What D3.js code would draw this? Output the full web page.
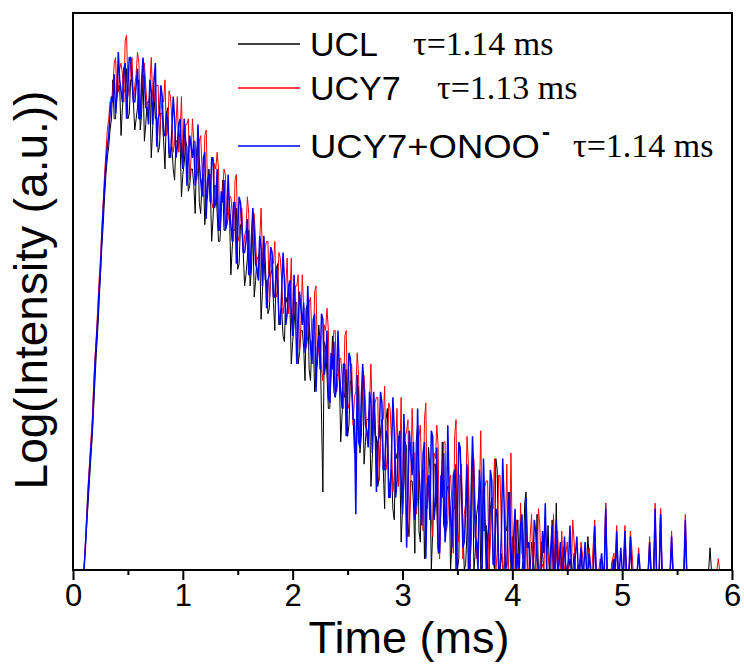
<!DOCTYPE html>
<html><head><meta charset="utf-8">
<script src="https://cdn.jsdelivr.net/npm/d3@7"></script>
<style>html,body{margin:0;padding:0;background:#fff;}</style>
</head><body>
<svg id="chart" width="744" height="666"></svg>
<script>
// Time (ms)
const times = [
0.1,0.1125,0.125,0.1375,0.15,0.1625,0.175,0.1875,0.2,0.2125,0.225,0.2375,0.25,0.2625,0.275,0.2875,0.3,0.3125,0.325,0.3375,
0.35,0.3625,0.375,0.3875,0.4,0.4125,0.425,0.4375,0.45,0.4625,0.475,0.4875,0.5,0.5125,0.525,0.5375,0.55,0.5625,0.575,0.5875,
0.6,0.6125,0.625,0.6375,0.65,0.6625,0.675,0.6875,0.7,0.7125,0.725,0.7375,0.75,0.7625,0.775,0.7875,0.8,0.8125,0.825,0.8375,
0.85,0.8625,0.875,0.8875,0.9,0.9125,0.925,0.9375,0.95,0.9625,0.975,0.9875,1,1.0125,1.025,1.0375,1.05,1.0625,1.075,1.0875,
1.1,1.1125,1.125,1.1375,1.15,1.1625,1.175,1.1875,1.2,1.2125,1.225,1.2375,1.25,1.2625,1.275,1.2875,1.3,1.3125,1.325,1.3375,
1.35,1.3625,1.375,1.3875,1.4,1.4125,1.425,1.4375,1.45,1.4625,1.475,1.4875,1.5,1.5125,1.525,1.5375,1.55,1.5625,1.575,1.5875,
1.6,1.6125,1.625,1.6375,1.65,1.6625,1.675,1.6875,1.7,1.7125,1.725,1.7375,1.75,1.7625,1.775,1.7875,1.8,1.8125,1.825,1.8375,
1.85,1.8625,1.875,1.8875,1.9,1.9125,1.925,1.9375,1.95,1.9625,1.975,1.9875,2,2.0125,2.025,2.0375,2.05,2.0625,2.075,2.0875,
2.1,2.1125,2.125,2.1375,2.15,2.1625,2.175,2.1875,2.2,2.2125,2.225,2.2375,2.25,2.2625,2.275,2.2875,2.3,2.3125,2.325,2.3375,
2.35,2.3625,2.375,2.3875,2.4,2.4125,2.425,2.4375,2.45,2.4625,2.475,2.4875,2.5,2.5125,2.525,2.5375,2.55,2.5625,2.575,2.5875,
2.6,2.6125,2.625,2.6375,2.65,2.6625,2.675,2.6875,2.7,2.7125,2.725,2.7375,2.75,2.7625,2.775,2.7875,2.8,2.8125,2.825,2.8375,
2.85,2.8625,2.875,2.8875,2.9,2.9125,2.925,2.9375,2.95,2.9625,2.975,2.9875,3,3.0125,3.025,3.0375,3.05,3.0625,3.075,3.0875,
3.1,3.1125,3.125,3.1375,3.15,3.1625,3.175,3.1875,3.2,3.2125,3.225,3.2375,3.25,3.2625,3.275,3.2875,3.3,3.3125,3.325,3.3375,
3.35,3.3625,3.375,3.3875,3.4,3.4125,3.425,3.4375,3.45,3.4625,3.475,3.4875,3.5,3.5125,3.525,3.5375,3.55,3.5625,3.575,3.5875,
3.6,3.6125,3.625,3.6375,3.65,3.6625,3.675,3.6875,3.7,3.7125,3.725,3.7375,3.75,3.7625,3.775,3.7875,3.8,3.8125,3.825,3.8375,
3.85,3.8625,3.875,3.8875,3.9,3.9125,3.925,3.9375,3.95,3.9625,3.975,3.9875,4,4.0125,4.025,4.0375,4.05,4.0625,4.075,4.0875,
4.1,4.1125,4.125,4.1375,4.15,4.1625,4.175,4.1875,4.2,4.2125,4.225,4.2375,4.25,4.2625,4.275,4.2875,4.3,4.3125,4.325,4.3375,
4.35,4.3625,4.375,4.3875,4.4,4.4125,4.425,4.4375,4.45,4.4625,4.475,4.4875,4.5,4.5125,4.525,4.5375,4.55,4.5625,4.575,4.5875,
4.6,4.6125,4.625,4.6375,4.65,4.6625,4.675,4.6875,4.7,4.7125,4.725,4.7375,4.75,4.7625,4.775,4.7875,4.8,4.8125,4.825,4.8375,
4.85,4.8625,4.875,4.8875,4.9,4.9125,4.925,4.9375,4.95,4.9625,4.975,4.9875,5,5.0125,5.025,5.0375,5.05,5.0625,5.075,5.0875,
5.1,5.1125,5.125,5.1375,5.15,5.1625,5.175,5.1875,5.2,5.2125,5.225,5.2375,5.25,5.2625,5.275,5.2875,5.3,5.3125,5.325,5.3375,
5.35,5.3625,5.375,5.3875,5.4,5.4125,5.425,5.4375,5.45,5.4625,5.475,5.4875,5.5,5.5125,5.525,5.5375,5.55,5.5625,5.575,5.5875,
5.6,5.6125,5.625,5.6375,5.65,5.6625,5.675,5.6875,5.7,5.7125,5.725,5.7375,5.75,5.7625,5.775,5.7875,5.8,5.8125,5.825,5.8375,
5.85,5.8625,5.875,5.8875,5.9];

// Log intensity (relative units, 0 = bottom of axis)
const UCL = [
0,4,8,12,16,20,24,29,34,39,43,48,53,58,62,67,71,74,76,79,
81,88,81,81,86,86,87,78,83,86,86,90,81,82,88,88,84,79,81,83,
88,79,82,89,77,80,84,84,85,74,79,85,81,81,75,76,82,82,77,72,
82,83,74,75,76,72,70,77,77,79,77,67,71,73,77,76,68,69,72,72,
69,64,75,77,66,64,70,71,62,66,67,72,69,59,63,69,69,64,59,59,
64,70,61,61,64,64,64,53,58,61,61,65,54,55,62,62,57,51,53,56,
61,51,54,62,49,52,56,56,57,45,50,57,52,52,46,47,53,54,48,43,
54,55,44,46,47,42,41,49,48,51,48,37,41,44,48,48,37,39,43,43,
40,34,47,48,36,34,41,42,32,36,37,44,41,28,14,41,40,35,29,29,
35,42,32,31,35,35,35,23,28,32,31,36,24,26,34,33,28,21,23,27,
33,21,24,34,19,23,27,27,29,15,20,29,24,24,15,17,25,27,18,11,
27,29,14,16,18,11,9,21,20,24,20,5,11,15,23,22,6,9,16,16,
12,3,23,26,7,5,17,18,2,10,12,22,18,0,7,19,19,11,3,3,
12,23,8,7,14,15,15,0,5,11,11,19,0,2,17,16,8,0,1,7,
18,0,5,21,0,3,10,12,15,0,1,17,7,8,0,0,11,13,2,0,
20,18,0,0,3,0,0,8,7,14,9,0,6,0,0,5,9,0,0,0,
2,12,14,0,0,0,5,3,0,0,10,0,0,5,3,0,0,0,8,0,
0,9,2,0,12,0,0,0,0,4,4,0,0,0,2,0,0,3,0,0,
0,0,3,0,0,0,0,6,2,0,0,0,6,0,0,0,0,0,0,0,
12,0,0,0,0,2,0,0,5,0,0,0,0,0,6,0,0,0,4,0,
0,0,0,0,0,0,0,0,0,0,0,0,3,0,0,0,9,0,0,0,
11,0,0,0,0,0,0,0,4,0,0,0,0,0,0,0,0,0,6,0,
0,0,0,0,0,0,0,0,0,0,0,0,0,0,0,0,4,0,0,0,
0,0,0,0,0];

const UCY7 = [
0,5,10,15,19,23,27,33,38,42,47,52,56,61,66,71,75,79,81,84,
83,86,91,92,85,86,90,91,89,84,95,96,87,85,91,92,84,87,89,93,
91,81,86,91,91,87,83,82,87,92,85,84,87,87,87,77,82,85,84,88,
78,79,86,85,81,75,77,80,85,75,78,85,73,76,80,80,81,70,74,81,
77,77,70,72,77,78,72,67,78,79,69,70,71,66,65,73,72,75,72,61,
66,68,72,71,62,63,67,67,64,59,70,71,60,59,65,65,57,60,61,67,
64,53,58,64,64,59,54,54,59,65,56,55,58,59,59,48,53,56,55,59,
49,50,57,56,52,46,48,51,56,46,49,56,42,47,51,51,53,39,44,53,
47,47,40,42,48,49,42,37,50,51,38,40,42,36,34,44,43,47,43,31,
36,38,43,43,32,34,38,38,35,29,42,43,30,29,36,37,26,31,32,39,
35,23,28,35,35,30,24,24,30,37,27,26,30,31,31,16,22,27,27,33,
18,20,30,29,23,14,17,22,29,15,19,31,10,17,24,25,27,6,15,29,
21,21,10,13,24,26,16,7,27,30,11,14,17,9,6,21,20,26,22,2,
11,15,23,23,7,9,16,17,12,3,24,27,7,5,17,19,2,10,12,24,
19,0,7,20,20,11,2,2,13,25,8,7,15,16,16,0,5,12,11,20,
0,3,17,17,8,0,1,8,19,0,5,21,4,0,7,9,0,0,12,3,
2,0,9,0,0,6,10,0,5,0,0,11,8,0,1,0,9,4,3,0,
0,0,10,0,2,7,0,0,7,0,0,3,5,0,0,0,9,5,0,0,
1,0,5,3,0,0,0,0,4,0,0,5,9,0,0,0,2,0,0,0,
12,0,0,0,0,2,3,0,8,0,0,0,0,0,8,0,0,0,7,4,
0,0,0,0,4,0,0,0,0,0,0,0,6,0,0,0,12,0,0,0,
11,0,0,0,0,0,0,0,7,0,0,0,0,0,0,0,0,0,10,0,
0,0,0,0,0,0,0,0,0,0,0,0,0,0,0,0,0,0,0,0,
0,0,2,0,0];

const UCY7_ONOO = [
0,4,9,14,18,22,25,31,37,41,45,50,54,60,65,69,73,76,78,82,
85,84,89,82,85,93,88,86,84,90,91,81,87,92,92,88,84,84,87,90,
81,81,88,92,88,83,83,80,88,86,80,88,91,76,81,82,87,85,78,78,
82,81,75,74,79,85,81,74,76,80,81,75,72,81,77,69,74,78,76,74,
77,69,71,80,73,70,67,74,75,63,70,71,66,74,74,65,66,72,61,61,
68,66,70,61,62,71,65,62,59,66,66,55,61,67,66,62,57,57,59,63,
53,53,60,65,61,55,54,52,60,58,51,60,55,47,52,53,58,57,49,49,
54,52,45,44,50,57,52,44,46,51,52,46,42,53,47,37,44,50,47,44,
48,39,41,51,44,40,37,45,46,32,40,42,36,46,45,35,37,43,31,30,
39,36,41,31,33,43,36,32,29,37,37,24,31,39,38,33,27,27,10,35,
23,22,31,37,32,26,25,22,32,30,21,32,27,14,23,24,32,30,18,18,
25,24,13,13,21,31,25,13,16,23,25,16,10,28,20,4,15,25,21,17,
23,9,12,29,18,13,8,21,23,2,15,17,9,25,24,9,12,22,4,3,
17,13,21,5,9,26,14,10,4,17,18,0,9,23,22,14,4,5,10,19,
0,0,14,24,16,6,5,0,18,14,0,20,10,0,6,8,18,16,1,1,
11,10,0,0,6,20,12,0,1,11,14,2,0,6,11,0,3,0,8,10,
0,0,13,4,5,0,0,0,9,7,2,0,0,0,7,3,12,0,0,0,
4,8,0,0,9,0,1,5,0,0,6,0,0,2,8,0,0,0,3,6,
0,0,4,0,0,5,0,0,3,0,0,0,8,0,0,0,0,3,0,0,
11,0,0,0,0,0,2,0,7,0,0,4,0,0,7,0,0,0,6,0,
0,0,0,0,3,0,0,0,0,0,0,0,5,0,0,0,11,0,0,0,
10,0,0,0,0,0,0,0,6,0,0,0,0,0,0,0,0,0,9,0,
0,0,0,0,0,0,0,0,0,0,0,0,0,0,0,0,0,0,0,0,
0,0,0,0,0];

const seriesNames = ["UCL", "UCY7", "UCY7+ONOO"];
const seriesColors = ["#000000", "#ff0000", "#0000ff"];
const seriesWidths = [1.0, 1.0, 1.5];
const tauLabels = ["\u03c4=1.14 ms", "\u03c4=1.13 ms", "\u03c4=1.14 ms"];
const xTicks = [0, 1, 2, 3, 4, 5, 6];
const xMinorTicks = [0.5, 1.5, 2.5, 3.5, 4.5, 5.5];

const seriesData = [UCL, UCY7, UCY7_ONOO];

const svg = d3.select("#chart");
const L = 73, R = 732, T = 13, B = 570;
const x = d3.scaleLinear().domain([0, 6]).range([L, R]);
const y = d3.scaleLinear().domain([0, 100]).range([B, T]);

const sans = "'Liberation Sans', Arial, sans-serif";
const serif = "'Liberation Serif', 'Times New Roman', serif";

// data lines
const line = d3.line()
  .defined((d, i) => i < times.length)
  .x((d, i) => x(times[i])).y(d => y(d));
seriesData.forEach((s, k) => {
  svg.append("path").datum(s)
    .attr("d", line)
    .attr("fill", "none")
    .attr("stroke", seriesColors[k])
    .attr("stroke-width", seriesWidths[k])
    .attr("stroke-linejoin", "bevel");
});

// x axis with major ticks
const xAxis = d3.axisBottom(x).tickValues(xTicks).tickSize(10).tickPadding(4).tickFormat(d3.format("d"));
const gx = svg.append("g").attr("transform", `translate(0,${B})`).call(xAxis);
gx.select(".domain").remove();
gx.selectAll(".tick line").attr("stroke", "#000").attr("stroke-width", 2);
gx.selectAll(".tick text").attr("font-family", sans).attr("font-size", 31).attr("fill", "#000");
// minor ticks
const xAxisMinor = d3.axisBottom(x).tickValues(xMinorTicks).tickSize(5).tickFormat("");
const gxm = svg.append("g").attr("transform", `translate(0,${B})`).call(xAxisMinor);
gxm.select(".domain").remove();
gxm.selectAll(".tick line").attr("stroke", "#000").attr("stroke-width", 2);

// frame
svg.append("rect").attr("x", L).attr("y", T).attr("width", R - L).attr("height", B - T)
  .attr("fill", "none").attr("stroke", "#000").attr("stroke-width", 2);

// axis titles
svg.append("text").attr("x", 409).attr("y", 653).attr("text-anchor", "middle")
  .attr("font-family", sans).attr("font-size", 45).text("Time (ms)");
svg.append("text").attr("transform", "translate(47,290) rotate(-90)").attr("text-anchor", "middle")
  .attr("font-family", sans).attr("font-size", 46).text("Log(Intensity (a.u.))");

// legend
const legY = [44, 88, 146];
const tauX = [413, 437, 573];
seriesNames.forEach((n, k) => {
  svg.append("line").attr("x1", 238).attr("x2", 300).attr("y1", legY[k]).attr("y2", legY[k])
    .attr("stroke", seriesColors[k]).attr("stroke-width", 1.5);
  const t = svg.append("text").attr("x", 310).attr("y", legY[k] + 12)
    .attr("font-family", sans).attr("font-size", 34).attr("fill", "#000").text(n);
  if (k === 2) {
    t.attr("textLength", 230).attr("lengthAdjust", "spacingAndGlyphs");
    svg.append("text").attr("x", 542).attr("y", legY[k] - 6)
      .attr("font-family", sans).attr("font-size", 24).attr("font-weight", "bold").text("-");
  }
  svg.append("text").attr("x", tauX[k]).attr("y", legY[k] + 11)
    .attr("font-family", serif).attr("font-size", 34).attr("fill", "#000").text(tauLabels[k]);
});
</script>
</body></html>
